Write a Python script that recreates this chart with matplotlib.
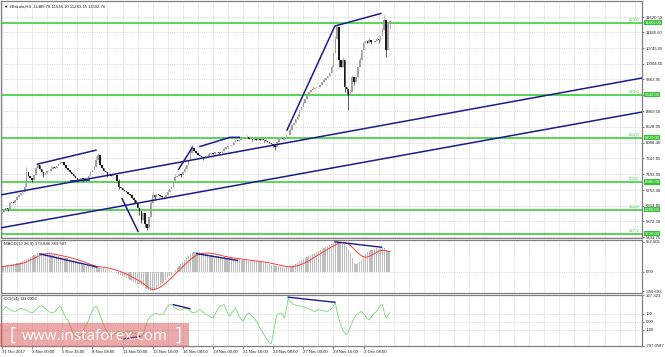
import matplotlib
matplotlib.use("Agg")
import matplotlib.pyplot as plt
from matplotlib.transforms import blended_transform_factory
from matplotlib.patches import Rectangle

plt.rcParams['font.family'] = ['Liberation Sans', 'DejaVu Sans']

# ---------------- data ----------------
title = "\u25BC #Bitcoin,H4  11485.78 11536.10 11283.15 11502.76"
macd_title = "MACD(12,26,9) 373.846 369.507"
cci_title = "CCI(14) 111.0956"

first_open = 6100
closes = [
    6135, 6180, 6250, 6230, 6390, 6420, 6380, 6480, 6550, 6600,
    6670, 6700, 6850, 7250, 7150, 7080, 7035, 7180, 7380, 7457,
    7350, 7250, 7176, 7220, 7300, 7280, 7350, 7401, 7380, 7420,
    7480, 7520, 7542, 7450, 7380, 7317, 7250, 7200, 7150, 7100,
    7035, 7060, 7090, 7050, 7080, 7092, 7150, 7250, 7330, 7401,
    7600, 7738, 7450, 7380, 7300, 7250, 7176, 7200, 7150, 7180,
    7176, 7000, 6838, 6800, 6760, 6720, 6698, 6650, 6600, 6520,
    6473, 6400, 6250, 6150, 5900, 6100, 5800, 5685, 6000, 6400,
    6613, 6550, 6650, 6613, 6580, 6560, 6557, 6600, 6700, 6780,
    6838, 7000, 7120, 7150, 7200, 7180, 7250, 7350, 7450, 7598,
    7800, 7935, 7850, 7795, 7750, 7700, 7680, 7654, 7700, 7720,
    7760, 7795, 7780, 7810, 7830, 7800, 7795, 7850, 7900, 7950,
    7980, 8000, 8020, 8100, 8150, 8130, 8161, 8200, 8180, 8220,
    8245, 8200, 8180, 8161, 8200, 8150, 8180, 8161, 8170, 8161,
    8140, 8100, 8080, 8050, 8020, 7950, 8100, 8180, 8217, 8200,
    8250, 8301, 8301, 8450, 8583, 8650, 8750, 8807, 9000, 9100,
    9201, 9300, 9400, 9500, 9567, 9600, 9620, 9640, 9651, 9700,
    9780, 9848, 9900, 9950, 10045, 10200, 10608, 11000, 11339, 10400,
    10214, 10411, 9651, 9600, 9400, 9500, 9933, 9800, 9933, 10200,
    10411, 10700, 10889, 10950, 10900, 10973, 10920, 10917, 10950, 10990,
    10973, 11100, 11255, 11550, 10700, 11485.78, 11502.76,
]
spike_high = {4: 6420, 12: 6950, 13: 7400, 18: 7420, 26: 7420, 31: 7570, 47: 7300,
              50: 7700, 51: 7800, 57: 7260, 62: 7050, 79: 6500, 80: 6700, 88: 6750,
              92: 7200, 97: 7420, 100: 7880, 101: 8010, 110: 7820, 118: 7950, 124: 8200,
              127: 8260, 130: 8290, 134: 8250, 147: 8230, 153: 8500, 157: 8880, 160: 9260,
              165: 9680, 171: 9900, 175: 10280, 177: 11100, 178: 11420, 181: 10500,
              186: 10000, 190: 10500, 192: 10950, 195: 11040, 199: 11050, 202: 11300,
              203: 11677, 206: 11536.10}
spike_low = {3: 6170, 9: 6550, 16: 6980, 22: 7120, 40: 6990, 43: 7000, 56: 7120, 62: 6780,
             70: 6420, 73: 6050, 74: 5820, 76: 5700, 77: 5629, 81: 6480, 86: 6500,
             95: 7120, 107: 7600, 115: 7760, 120: 7930, 133: 8120, 139: 8110, 144: 7960,
             145: 7880, 150: 8150, 159: 9030, 163: 9430, 169: 9640, 179: 10200,
             182: 9500, 183: 9450, 184: 9004, 187: 9700, 196: 10850, 200: 10900,
             204: 10495, 205: 11100, 206: 11283.15}

macd_main = [
    110, 112, 118, 124, 130, 135, 142, 150, 158, 166,
    175, 190, 215, 240, 255, 270, 288, 305, 320, 338,
    350, 345, 338, 330, 325, 318, 312, 305, 298, 290,
    283, 275, 268, 260, 252, 243, 233, 222, 210, 195,
    180, 163, 147, 130, 120, 110, 100, 92, 85, 80,
    82, 85, 80, 70, 60, 52, 45, 32, 18, 0,
    -12, -25, -38, -50, -72, -95, -117, -133, -150, -165,
    -180, -197, -214, -230, -247, -268, -290, -312, -330, -345,
    -357, -340, -312, -280, -246, -213, -180, -148, -115, -84,
    -52, -10, 35, 78, 110, 145, 178, 208, 245, 285,
    325, 340, 352, 360, 364, 356, 347, 338, 330, 322,
    313, 305, 299, 292, 286, 280, 273, 268, 263, 258,
    254, 249, 244, 240, 236, 231, 226, 222, 217, 212,
    208, 204, 200, 196, 192, 188, 184, 179, 175, 166,
    157, 148, 138, 128, 119, 110, 104, 97, 90, 84,
    78, 86, 94, 102, 110, 128, 148, 168, 188, 208,
    228, 248, 266, 285, 305, 324, 343, 361, 380, 398,
    416, 433, 450, 467, 484, 500, 520, 545, 565, 548,
    532, 516, 500, 455, 400, 338, 245, 160, 143, 165,
    185, 208, 262, 318, 370, 382, 393, 403, 414, 425,
    420, 430, 435, 440, 405, 385, 373.846,
]
macd_signal = [
    95, 98, 102, 106, 111, 116, 121, 127, 133, 140,
    147, 156, 168, 183, 198, 213, 229, 246, 263, 281,
    297, 310, 320, 327, 331, 332, 330, 326, 320, 313,
    306, 299, 291, 284, 276, 268, 260, 252, 243, 233,
    222, 211, 198, 186, 173, 160, 147, 135, 123, 111,
    102, 95, 90, 86, 82, 78, 72, 65, 57, 47,
    37, 27, 16, 4, -10, -25, -41, -57, -74, -92,
    -109, -128, -148, -168, -190, -215, -240, -265, -290, -310,
    -325, -322, -312, -298, -280, -258, -232, -204, -174, -142,
    -110, -76, -42, -8, 26, 60, 94, 128, 160, 192,
    222, 250, 274, 294, 310, 322, 331, 337, 341, 342,
    341, 338, 333, 326, 318, 310, 301, 293, 285, 278,
    270, 264, 258, 253, 248, 243, 238, 233, 228, 224,
    219, 215, 210, 206, 202, 198, 194, 189, 185, 180,
    175, 169, 163, 156, 149, 141, 133, 125, 117, 109,
    102, 97, 93, 91, 92, 96, 102, 110, 121, 134,
    149, 166, 184, 203, 223, 244, 265, 286, 308, 330,
    351, 372, 393, 414, 434, 453, 472, 490, 508, 522,
    530, 533, 531, 521, 504, 479, 447, 411, 376, 343,
    315, 291, 275, 268, 270, 281, 299, 318, 338, 358,
    376, 385, 390, 392, 385, 375, 369.507,
]
cci_values = [
    140, 150, 191, 170, 150, 138, 130, 129, 135, 150,
    171, 160, 150, 145, 130, 115, 108, 125, 150, 171,
    190, 200, 185, 160, 138, 125, 115, 108, 125, 150,
    175, 191, 150, 90, 40, 25, -40, -100, -160, -183,
    -175, -170, -165, -120, -60, -37, 20, 87, 140, 175,
    191, 150, 87, 20, -37, -90, -140, -160, -183, -170,
    -150, -130, -120, -130, -140, -135, -125, -120, -125, -130,
    -140, -150, -165, -175, -183, -150, -80, -10, 40, 66,
    85, 100, 108, 95, 87, 90, 110, 150, 190, 212,
    213, 190, 171, 160, 150, 145, 158, 165, 171, 150,
    130, 115, 108, 120, 135, 150, 135, 115, 95, 88,
    70, 55, 46, 90, 130, 171, 190, 205, 213, 150,
    100, 67, 110, 140, 171, 120, 70, 30, 4, 50,
    85, 108, 85, 65, 46, 10, -30, -79, -110, -150,
    -190, -230, -262, -270, -150, -20, 88, 100, 108, 90,
    46, 150, 296, 250, 230, 213, 205, 198, 195, 192,
    185, 178, 171, 160, 148, 135, 129, 140, 150, 145,
    140, 135, 130, 129, 140, 160, 200, 234, 120, 25,
    -40, -100, -140, -160, -120, -58, -10, 46, 80, 100,
    115, 129, 100, 70, 40, 25, 55, 85, 110, 129,
    170, 205, 213, 120, 46, 80, 111.0956,
]

# Fibonacci levels (price, label)
level_prices = [11460.00, 9440.00, 8220.00, 6980.00, 6200.00, 5526.00]
level_names = ["423.6", "323.6", "261.8", "200.0", "161.8", "127.2"]

# hand-drawn trend lines: (bar indices), (prices)
trend_lines = [
    ([-1.06, 339.9], [5685, 8948]),
    ([-1.06, 339.9], [6613, 9905]),
    ([18.4, 50.3], [7477, 7879]),
    ([36.1, 46.7], [7007, 7035]),
    ([63.6, 72.4], [6529, 5572]),
    ([93.6, 101.3], [7317, 7972]),
    ([104.8, 121.1, 126.4], [7972, 8236, 8236]),
    ([151.2, 176.8, 201.6], [8420, 11367, 11725]),
]
macd_lines = [
    ([20.2, 50.3], [326, 87]),
    ([103.4, 125.0], [331, 208]),
    ([176.8, 201.6], [547, 448]),
]
cci_lines = [
    ([91.0, 99.8], [212, 162]),
    ([152.0, 176.8], [304, 241]),
    ([63.6, 73.3], [-216, -183]),
]

price_ticks = [11620.50, 11185.60, 10745.05, 10304.50, 9863.95, 9416.00, 8969.50, 8528.95,
               8088.40, 7647.85, 7193.95, 6752.40, 6312.85, 5872.30, 5431.75]
price_tick_labels = ["11620.50", "11185.60", "10745.05", "10304.50", "9863.95", "", "8969.50",
                     "8528.95", "8088.40", "7647.85", "7193.95", "6752.40", "6312.85",
                     "5872.30", "5431.75"]
macd_ticks = [552.005, 0.0, -350.693]
macd_tick_labels = ["552.005", "0.00", "-350.693"]
cci_ticks = [327.323, 100, 0, -100, -297.0587]
cci_tick_labels = ["327.323", "100", "0.00", "-100", "-297.0587"]

date_labels = ["31 Oct 2017", "3 Nov 00:00", "5 Nov 16:00", "8 Nov 08:00", "11 Nov 00:00",
               "13 Nov 16:00", "16 Nov 08:00", "19 Nov 00:00", "21 Nov 16:00", "24 Nov 08:00",
               "27 Nov 00:00", "29 Nov 16:00", "2 Dec 08:00"]
date_label_bars = [0, 16, 32, 48, 64, 80, 96, 112, 128, 144, 160, 176, 192]

# ---------------- style ----------------
W, H = 665, 357
FS = 3.1
NAVY = '#1c1c8c'
LGREEN = '#3ccf3c'
GRIDC = '#c4c4c4'
SPINE = '#808080'
TXT = '#222222'
XLIM = (-0.53, 339.9)

def rect(x0, y0, x1, y1):
    return [x0 / W, 1 - y1 / H, (x1 - x0) / W, (y1 - y0) / H]

fig = plt.figure(figsize=(W / 100, H / 100), dpi=100, facecolor='white')
ax = fig.add_axes(rect(1, 1, 642, 238))
axm = fig.add_axes(rect(1, 239.5, 642, 293))
axc = fig.add_axes(rect(1, 294.5, 642, 346))

for a in (ax, axm, axc):
    a.set_xlim(*XLIM)
    a.set_facecolor('white')
    for s in a.spines.values():
        s.set_color(SPINE)
        s.set_linewidth(0.9)
    a.yaxis.tick_right()
    a.tick_params(axis='y', labelsize=FS, length=1.5, width=0.4, pad=1, colors=TXT)
    a.tick_params(axis='x', bottom=False, labelbottom=False)
    for b in range(0, 340, 8):
        a.axvline(b, color=GRIDC, lw=0.45, ls=(0, (1.5, 1.5)), zorder=0)

# ---- main price panel ----
ax.set_ylim(5403.8, 12070.6)
ax.set_yticks(price_ticks)
ax.set_yticklabels(price_tick_labels)
for v in price_ticks:
    ax.axhline(v, color=GRIDC, lw=0.45, ls=(0, (1.5, 1.5)), zorder=0)

n = len(closes)
opens = [first_open] + closes[:-1]
for i in range(n):
    o, c = opens[i], closes[i]
    hi = max(spike_high.get(i, max(o, c)), max(o, c))
    lo = min(spike_low.get(i, min(o, c)), min(o, c))
    col = '#a0a0a0' if c >= o else '#1a1a1a'
    ax.vlines(i, lo, hi, color=col, lw=0.5, zorder=3)
    ax.bar(i, max(abs(c - o), 14), bottom=min(o, c), width=0.8, color=col,
           linewidth=0, zorder=3)

blend = blended_transform_factory(ax.transAxes, ax.transData)
for p, name in zip(level_prices, level_names):
    ax.axhline(p, color=LGREEN, lw=1.2, zorder=2)
    ax.text(0.996, p + 25, name, transform=blend, ha='right', va='bottom',
            fontsize=FS, color=LGREEN, zorder=5)
    ax.text(1.004, p, "%.2f" % p, transform=blend, ha='left', va='center',
            fontsize=FS, color='white', zorder=6, clip_on=False,
            bbox=dict(facecolor='#33c433', edgecolor='none', pad=0.4))

for xs, ys in trend_lines:
    ax.plot(xs, ys, color=NAVY, lw=1.1, zorder=4, solid_capstyle='butt')

ax.text(0.004, 0.985, title, transform=ax.transAxes, ha='left', va='top',
        fontsize=FS, color=TXT)

# ---- MACD panel ----
axm.set_ylim(-387, 589)
axm.set_yticks(macd_ticks)
axm.set_yticklabels(macd_tick_labels)
axm.axhline(0, color=GRIDC, lw=0.45, ls=(0, (1.5, 1.5)), zorder=0)
axm.bar(range(len(macd_main)), macd_main, width=0.6, color='#bdbdbd', linewidth=0, zorder=2)
axm.plot(range(len(macd_signal)), macd_signal, color='#ff3b3b', lw=0.7, zorder=3)
for xs, ys in macd_lines:
    axm.plot(xs, ys, color=NAVY, lw=1.0, zorder=4)
axm.text(0.004, 0.95, macd_title, transform=axm.transAxes, ha='left', va='top',
         fontsize=FS, color=TXT)

# ---- CCI panel ----
axc.set_ylim(-300, 337.5)
axc.set_yticks(cci_ticks)
axc.set_yticklabels(cci_tick_labels)
for v in (100, 0, -100):
    axc.axhline(v, color=GRIDC, lw=0.45, ls=(0, (1.5, 1.5)), zorder=0)
axc.plot(range(len(cci_values)), cci_values, color='#78d878', lw=0.6, zorder=3)
for xs, ys in cci_lines:
    axc.plot(xs, ys, color=NAVY, lw=1.0, zorder=4)
axc.text(0.004, 0.95, cci_title, transform=axc.transAxes, ha='left', va='top',
         fontsize=FS, color=TXT)

axc.tick_params(axis='x', bottom=True, labelbottom=True, length=2, width=0.4,
                pad=1.2, labelsize=FS, colors=TXT, direction='out')
axc.set_xticks(date_label_bars)
axc.set_xticklabels(date_labels)
for lbl in axc.get_xticklabels():
    lbl.set_ha('left')

# ---- watermark ----
fig.add_artist(Rectangle((0, 1 - 347 / H), 189 / W, 24 / H, transform=fig.transFigure,
                         facecolor='#d95555', edgecolor='none', alpha=0.5, zorder=10))
fig.text(95 / W, 1 - 336 / H, "www.instaforex.com", ha='center', va='center',
         fontsize=11, color='white', family=['Open Sans', 'DejaVu Sans'], zorder=11)
fig.text(12 / W, 1 - 335 / H, "[", ha='center', va='center', fontsize=13,
         color='white', family=['Open Sans', 'DejaVu Sans'], zorder=11)
fig.text(178 / W, 1 - 335 / H, "]", ha='center', va='center', fontsize=13,
         color='white', family=['Open Sans', 'DejaVu Sans'], zorder=11)

fig.savefig("out.png", dpi=100, facecolor='white')
